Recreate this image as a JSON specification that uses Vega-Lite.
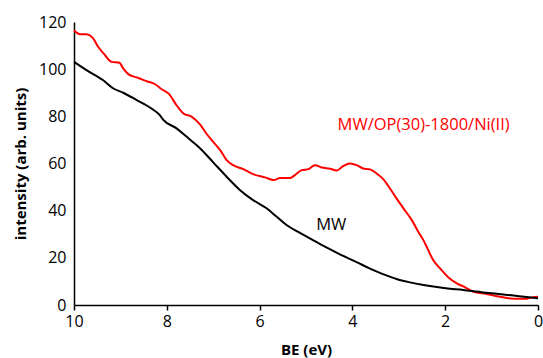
{
  "$schema": "https://vega.github.io/schema/vega-lite/v6.json",
  "width": 464,
  "height": 283,
  "autosize": {"type": "none"},
  "padding": {"left": 74, "top": 22, "right": 5, "bottom": 53},
  "config": {
    "view": {"stroke": null},
    "font": "Open Sans",
    "axis": {"grid": false, "domainColor": "black", "domainWidth": 1.5, "tickColor": "black", "tickWidth": 1.5, "labelColor": "black", "titleColor": "black", "labelFontSize": 16, "titleFontSize": 15, "titleFontWeight": "bold", "labelFont": "Open Sans", "titleFont": "Open Sans", "labelFlush": false}
  },
  "datasets": {
    "curves": [
      {"series": "MW/OP(30)-1800/Ni(II)", "BE": 10, "intensity": 116.5},
      {"series": "MW/OP(30)-1800/Ni(II)", "BE": 9.87, "intensity": 114.8},
      {"series": "MW/OP(30)-1800/Ni(II)", "BE": 9.73, "intensity": 114.8},
      {"series": "MW/OP(30)-1800/Ni(II)", "BE": 9.6, "intensity": 113.4},
      {"series": "MW/OP(30)-1800/Ni(II)", "BE": 9.48, "intensity": 109.5},
      {"series": "MW/OP(30)-1800/Ni(II)", "BE": 9.33, "intensity": 105.9},
      {"series": "MW/OP(30)-1800/Ni(II)", "BE": 9.19, "intensity": 103.1},
      {"series": "MW/OP(30)-1800/Ni(II)", "BE": 9.02, "intensity": 102.7},
      {"series": "MW/OP(30)-1800/Ni(II)", "BE": 8.94, "intensity": 100.3},
      {"series": "MW/OP(30)-1800/Ni(II)", "BE": 8.83, "intensity": 97.9},
      {"series": "MW/OP(30)-1800/Ni(II)", "BE": 8.65, "intensity": 96.5},
      {"series": "MW/OP(30)-1800/Ni(II)", "BE": 8.43, "intensity": 94.9},
      {"series": "MW/OP(30)-1800/Ni(II)", "BE": 8.25, "intensity": 93.6},
      {"series": "MW/OP(30)-1800/Ni(II)", "BE": 8.11, "intensity": 91.5},
      {"series": "MW/OP(30)-1800/Ni(II)", "BE": 7.95, "intensity": 89.4},
      {"series": "MW/OP(30)-1800/Ni(II)", "BE": 7.79, "intensity": 84.7},
      {"series": "MW/OP(30)-1800/Ni(II)", "BE": 7.64, "intensity": 81.2},
      {"series": "MW/OP(30)-1800/Ni(II)", "BE": 7.46, "intensity": 79.8},
      {"series": "MW/OP(30)-1800/Ni(II)", "BE": 7.28, "intensity": 76.5},
      {"series": "MW/OP(30)-1800/Ni(II)", "BE": 7.14, "intensity": 72.5},
      {"series": "MW/OP(30)-1800/Ni(II)", "BE": 7.0, "intensity": 69.2},
      {"series": "MW/OP(30)-1800/Ni(II)", "BE": 6.85, "intensity": 65.7},
      {"series": "MW/OP(30)-1800/Ni(II)", "BE": 6.71, "intensity": 61.4},
      {"series": "MW/OP(30)-1800/Ni(II)", "BE": 6.57, "intensity": 59.3},
      {"series": "MW/OP(30)-1800/Ni(II)", "BE": 6.35, "intensity": 57.6},
      {"series": "MW/OP(30)-1800/Ni(II)", "BE": 6.14, "intensity": 55.5},
      {"series": "MW/OP(30)-1800/Ni(II)", "BE": 5.88, "intensity": 54.1},
      {"series": "MW/OP(30)-1800/Ni(II)", "BE": 5.7, "intensity": 53.0},
      {"series": "MW/OP(30)-1800/Ni(II)", "BE": 5.56, "intensity": 53.8},
      {"series": "MW/OP(30)-1800/Ni(II)", "BE": 5.34, "intensity": 53.9},
      {"series": "MW/OP(30)-1800/Ni(II)", "BE": 5.24, "intensity": 55.1},
      {"series": "MW/OP(30)-1800/Ni(II)", "BE": 5.09, "intensity": 57.2},
      {"series": "MW/OP(30)-1800/Ni(II)", "BE": 4.95, "intensity": 57.6},
      {"series": "MW/OP(30)-1800/Ni(II)", "BE": 4.81, "intensity": 59.3},
      {"series": "MW/OP(30)-1800/Ni(II)", "BE": 4.66, "intensity": 58.3},
      {"series": "MW/OP(30)-1800/Ni(II)", "BE": 4.48, "intensity": 57.8},
      {"series": "MW/OP(30)-1800/Ni(II)", "BE": 4.34, "intensity": 57.0},
      {"series": "MW/OP(30)-1800/Ni(II)", "BE": 4.2, "intensity": 58.9},
      {"series": "MW/OP(30)-1800/Ni(II)", "BE": 4.05, "intensity": 60.0},
      {"series": "MW/OP(30)-1800/Ni(II)", "BE": 3.91, "intensity": 59.3},
      {"series": "MW/OP(30)-1800/Ni(II)", "BE": 3.77, "intensity": 57.9},
      {"series": "MW/OP(30)-1800/Ni(II)", "BE": 3.62, "intensity": 57.5},
      {"series": "MW/OP(30)-1800/Ni(II)", "BE": 3.48, "intensity": 55.8},
      {"series": "MW/OP(30)-1800/Ni(II)", "BE": 3.33, "intensity": 53.3},
      {"series": "MW/OP(30)-1800/Ni(II)", "BE": 3.19, "intensity": 49.4},
      {"series": "MW/OP(30)-1800/Ni(II)", "BE": 3.05, "intensity": 45.2},
      {"series": "MW/OP(30)-1800/Ni(II)", "BE": 2.9, "intensity": 41.0},
      {"series": "MW/OP(30)-1800/Ni(II)", "BE": 2.72, "intensity": 36.0},
      {"series": "MW/OP(30)-1800/Ni(II)", "BE": 2.58, "intensity": 31.1},
      {"series": "MW/OP(30)-1800/Ni(II)", "BE": 2.47, "intensity": 27.5},
      {"series": "MW/OP(30)-1800/Ni(II)", "BE": 2.4, "intensity": 24.7},
      {"series": "MW/OP(30)-1800/Ni(II)", "BE": 2.26, "intensity": 19.1},
      {"series": "MW/OP(30)-1800/Ni(II)", "BE": 2.11, "intensity": 15.5},
      {"series": "MW/OP(30)-1800/Ni(II)", "BE": 1.93, "intensity": 11.7},
      {"series": "MW/OP(30)-1800/Ni(II)", "BE": 1.75, "intensity": 9.2},
      {"series": "MW/OP(30)-1800/Ni(II)", "BE": 1.57, "intensity": 7.5},
      {"series": "MW/OP(30)-1800/Ni(II)", "BE": 1.39, "intensity": 5.6},
      {"series": "MW/OP(30)-1800/Ni(II)", "BE": 1.11, "intensity": 4.7},
      {"series": "MW/OP(30)-1800/Ni(II)", "BE": 0.82, "intensity": 3.5},
      {"series": "MW/OP(30)-1800/Ni(II)", "BE": 0.53, "intensity": 2.7},
      {"series": "MW/OP(30)-1800/Ni(II)", "BE": 0.24, "intensity": 2.7},
      {"series": "MW/OP(30)-1800/Ni(II)", "BE": 0.1, "intensity": 3.3},
      {"series": "MW/OP(30)-1800/Ni(II)", "BE": 0, "intensity": 3.5},
      {"series": "MW", "BE": 10, "intensity": 103.1},
      {"series": "MW", "BE": 9.73, "intensity": 99.6},
      {"series": "MW", "BE": 9.37, "intensity": 95.3},
      {"series": "MW", "BE": 9.15, "intensity": 91.8},
      {"series": "MW", "BE": 8.94, "intensity": 90.0},
      {"series": "MW", "BE": 8.65, "intensity": 86.9},
      {"series": "MW", "BE": 8.33, "intensity": 83.3},
      {"series": "MW", "BE": 8.15, "intensity": 80.5},
      {"series": "MW", "BE": 8.08, "intensity": 78.6},
      {"series": "MW", "BE": 7.79, "intensity": 74.9},
      {"series": "MW", "BE": 7.57, "intensity": 71.3},
      {"series": "MW", "BE": 7.36, "intensity": 67.8},
      {"series": "MW", "BE": 7.28, "intensity": 66.4},
      {"series": "MW", "BE": 7.0, "intensity": 60.5},
      {"series": "MW", "BE": 6.71, "intensity": 54.4},
      {"series": "MW", "BE": 6.42, "intensity": 48.7},
      {"series": "MW", "BE": 6.14, "intensity": 44.5},
      {"series": "MW", "BE": 5.85, "intensity": 41.0},
      {"series": "MW", "BE": 5.63, "intensity": 37.4},
      {"series": "MW", "BE": 5.42, "intensity": 33.9},
      {"series": "MW", "BE": 5.13, "intensity": 30.6},
      {"series": "MW", "BE": 4.84, "intensity": 27.4},
      {"series": "MW", "BE": 4.55, "intensity": 24.3},
      {"series": "MW", "BE": 4.3, "intensity": 21.8},
      {"series": "MW", "BE": 3.91, "intensity": 18.2},
      {"series": "MW", "BE": 3.62, "intensity": 15.4},
      {"series": "MW", "BE": 3.33, "intensity": 13.0},
      {"series": "MW", "BE": 3.05, "intensity": 11.0},
      {"series": "MW", "BE": 2.76, "intensity": 9.6},
      {"series": "MW", "BE": 2.47, "intensity": 8.5},
      {"series": "MW", "BE": 2.18, "intensity": 7.6},
      {"series": "MW", "BE": 1.9, "intensity": 6.9},
      {"series": "MW", "BE": 1.61, "intensity": 6.4},
      {"series": "MW", "BE": 1.47, "intensity": 6.0},
      {"series": "MW", "BE": 1.11, "intensity": 5.2},
      {"series": "MW", "BE": 0.75, "intensity": 4.5},
      {"series": "MW", "BE": 0.4, "intensity": 3.7},
      {"series": "MW", "BE": 0, "intensity": 2.9}
    ],
    "labels": [
      {"series": "MW/OP(30)-1800/Ni(II)", "BE": 4.32, "intensity": 76.3},
      {"series": "MW", "BE": 4.78, "intensity": 33.9}
    ]
  },
  "layer": [
    {
      "data": {"name": "curves"},
      "mark": {"type": "line", "strokeWidth": 2, "interpolate": "monotone"},
      "encoding": {
        "x": {
          "field": "BE", "type": "quantitative",
          "scale": {"domain": [0, 10], "reverse": true, "nice": false},
          "axis": {"values": [0, 2, 4, 6, 8, 10], "tickSize": 5, "labelPadding": 3, "title": "BE (eV)", "titlePadding": 13}
        },
        "y": {
          "field": "intensity", "type": "quantitative",
          "scale": {"domain": [0, 120], "nice": false},
          "axis": {"values": [0, 20, 40, 60, 80, 100, 120], "ticks": false, "labelPadding": 8, "title": "intensity (arb. units)", "titlePadding": 10}
        },
        "color": {
          "field": "series", "type": "nominal",
          "scale": {"domain": ["MW", "MW/OP(30)-1800/Ni(II)"], "range": ["#000000", "#ff0000"]},
          "legend": null
        }
      }
    },
    {
      "data": {"name": "labels"},
      "mark": {"type": "text", "align": "left", "baseline": "middle", "fontSize": 16.5, "font": "Open Sans"},
      "encoding": {
        "x": {"field": "BE", "type": "quantitative"},
        "y": {"field": "intensity", "type": "quantitative"},
        "text": {"field": "series"},
        "color": {"field": "series", "type": "nominal", "legend": null}
      }
    }
  ]
}
